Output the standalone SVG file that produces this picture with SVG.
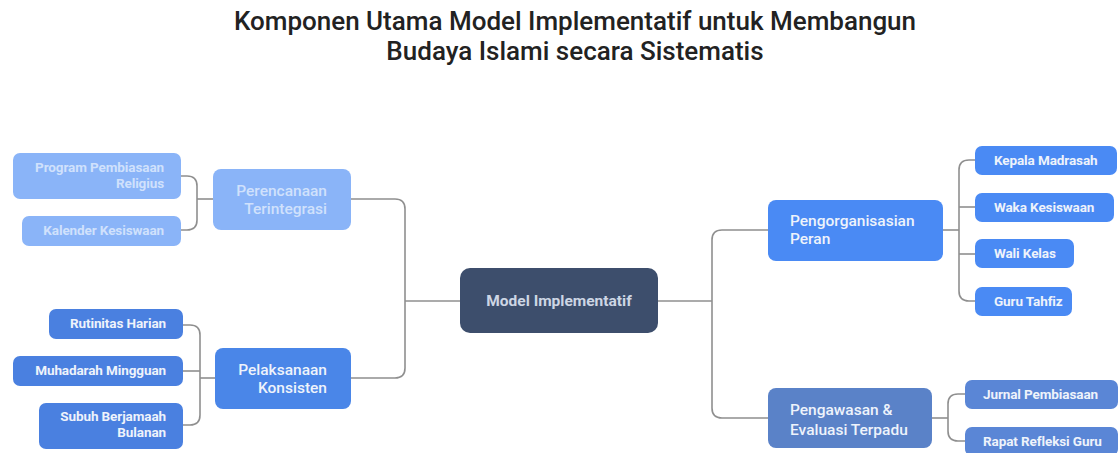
<svg xmlns="http://www.w3.org/2000/svg" width="1120" height="453" viewBox="0 0 1120 453">
<style>
.title{font-family:Roboto,"Liberation Sans",sans-serif;font-weight:500;font-size:26px;fill:#222;text-anchor:middle}
.p{font-family:Roboto,"Liberation Sans",sans-serif;font-weight:500;font-size:15.5px}
.c{font-family:Roboto,"Liberation Sans",sans-serif;font-weight:700;font-size:13.5px;letter-spacing:-0.1px}
.r{text-anchor:end}
.l{text-anchor:start}
.m{text-anchor:middle}
.w{fill:#eef3fb}
.fade{fill:#d0e1fc}
.conn path{fill:none;stroke:#8f8f8f;stroke-width:1.6}
</style>
<text class="title" x="575" y="30">Komponen Utama Model Implementatif untuk Membangun</text>
<text class="title" x="575" y="60">Budaya Islami secara Sistematis</text>

<g class="conn">
<path d="M175 176 H187 Q197 176 197 186 V220 Q197 230 187 230 H175"/>
<path d="M197 199 H213"/>
<path d="M183 325 H190 Q200 325 200 335 V415 Q200 425 190 425 H183"/>
<path d="M183 371 H200"/>
<path d="M200 378 H215"/>
<path d="M351 199 H395 Q405 199 405 209 V368 Q405 378 395 378 H351"/>
<path d="M405 301 H460"/>
<path d="M658 301 H712"/>
<path d="M768 230 H722 Q712 230 712 240 V408 Q712 418 722 418 H768"/>
<path d="M943 230 H959"/>
<path d="M975 160 H969 Q959 160 959 170 V291 Q959 301 969 301 H975"/>
<path d="M959 207 H975"/>
<path d="M959 254 H975"/>
<path d="M932 418 H948"/>
<path d="M965 394 H958 Q948 394 948 404 V431 Q948 441 958 441 H965"/>
</g>

<g id="perencanaan">
<rect x="213" y="169" width="138" height="61" rx="8" fill="#8ab4f8"/>
<text class="p r fade" x="327" y="196">Perencanaan</text>
<text class="p r fade" x="327" y="214">Terintegrasi</text>
</g>
<g id="program">
<rect x="13" y="153" width="168" height="46" rx="7" fill="#8ab4f8"/>
<text class="c r fade" x="164" y="172">Program Pembiasaan</text>
<text class="c r fade" x="164" y="188">Religius</text>
</g>
<g id="kalender">
<rect x="22" y="216" width="159" height="30" rx="7" fill="#8ab4f8"/>
<text class="c r fade" x="164" y="235">Kalender Kesiswaan</text>
</g>

<g id="pelaksanaan">
<rect x="215" y="348" width="136" height="61" rx="8" fill="#4a86e8"/>
<text class="p r w" x="327" y="375">Pelaksanaan</text>
<text class="p r w" x="327" y="393">Konsisten</text>
</g>
<g id="rutinitas">
<rect x="49" y="309" width="134" height="30" rx="7" fill="#4a80e0"/>
<text class="c r w" x="166" y="328">Rutinitas Harian</text>
</g>
<g id="muhadarah">
<rect x="13" y="356" width="170" height="30" rx="7" fill="#4a80e0"/>
<text class="c r w" x="166" y="375">Muhadarah Mingguan</text>
</g>
<g id="subuh">
<rect x="39" y="403" width="144" height="46" rx="7" fill="#4a80e0"/>
<text class="c r w" x="166" y="421">Subuh Berjamaah</text>
<text class="c r w" x="166" y="437">Bulanan</text>
</g>

<g id="model">
<rect x="460" y="268" width="198" height="65" rx="10" fill="#3d4e6c"/>
<text class="p m" x="559" y="306" style="font-weight:700;fill:#cdd6e4">Model Implementatif</text>
</g>

<g id="pengorganisasian">
<rect x="768" y="200" width="175" height="61" rx="8" fill="#4a8af4"/>
<text class="p l w" x="790" y="226">Pengorganisasian</text>
<text class="p l w" x="790" y="244">Peran</text>
</g>
<g id="kepala">
<rect x="975" y="146" width="142" height="29" rx="7" fill="#4a8af4"/>
<text class="c l w" x="994" y="165">Kepala Madrasah</text>
</g>
<g id="waka">
<rect x="975" y="193" width="139" height="29" rx="7" fill="#4a8af4"/>
<text class="c l w" x="994" y="212">Waka Kesiswaan</text>
</g>
<g id="wali">
<rect x="975" y="239" width="99" height="29" rx="7" fill="#4a8af4"/>
<text class="c l w" x="994" y="258">Wali Kelas</text>
</g>
<g id="guru">
<rect x="975" y="287" width="97" height="29" rx="7" fill="#4a8af4"/>
<text class="c l w" x="994" y="306">Guru Tahfiz</text>
</g>

<g id="pengawasan">
<rect x="768" y="388" width="164" height="60" rx="8" fill="#5a82c8"/>
<text class="p l w" x="790" y="415">Pengawasan &amp;</text>
<text class="p l w" x="790" y="435">Evaluasi Terpadu</text>
</g>
<g id="jurnal">
<rect x="965" y="380" width="153" height="29" rx="7" fill="#5a86d6"/>
<text class="c l w" x="983" y="399">Jurnal Pembiasaan</text>
</g>
<g id="rapat">
<rect x="965" y="427" width="153" height="29" rx="7" fill="#5a86d6"/>
<text class="c l w" x="983" y="446">Rapat Refleksi Guru</text>
</g>
</svg>
